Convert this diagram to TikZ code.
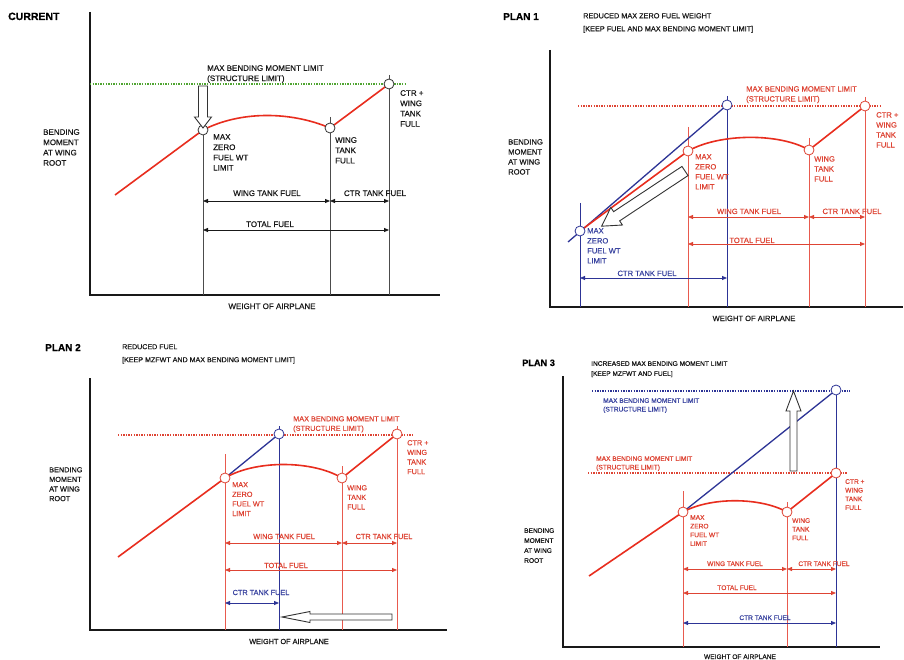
\documentclass[tikz,border=0pt]{standalone}
\usepackage{fontspec}
\setmainfont{Liberation Sans}[FakeBold=0.5]
\usetikzlibrary{arrows.meta,backgrounds}

\definecolor{curvered}{RGB}{232,45,30}
\definecolor{lblred}{RGB}{222,68,52}
\definecolor{dropred}{RGB}{232,90,78}
\definecolor{planblue}{RGB}{45,52,150}
\definecolor{lblblue}{RGB}{58,68,160}
\definecolor{limgreen}{RGB}{80,165,50}

% hollow block arrow: tail, angle, length, shaft half width, head half width, head length
\newcommand{\fatarrow}[6]{%
  \begin{scope}[shift={#1}, rotate=#2]
    \draw[fatline] (0,-#4) -- (#3-#6,-#4) -- (#3-#6,-#5) -- (#3,0) -- (#3-#6,#5) -- (#3-#6,#4) -- (0,#4) -- cycle;
  \end{scope}}

\begin{document}
\begin{tikzpicture}[
    x=1pt, y=-1pt,
    >={Triangle[length=5pt,width=4pt]},
    title/.style={font=\fontsize{10.5}{12}\selectfont\bfseries, inner sep=0pt, anchor=base west, text=black},
    lbl/.style={align=left, anchor=north west, inner sep=0pt, text=black!90},
    dlab/.style={anchor=base, inner sep=0pt, text=black!90},
    pt/.style={circle, draw=#1, fill=white, line width=0.8pt, minimum size=10pt, inner sep=0pt},
    axis/.style={line width=1.1pt, draw=black!90},
    drop/.style={line width=0.7pt, draw=#1},
    drop/.default=black!70,
    curve/.style={line width=1.6pt, draw=curvered, line join=round},
    bline/.style={line width=1.3pt, draw=planblue},
    limit/.style={line width=1.4pt, dash pattern=on 1.4pt off 1.2pt, draw=#1},
    dim/.style={<->, line width=0.8pt, draw=#1},
    fatline/.style={draw=black!80, line width=0.9pt, fill=white, line join=miter}
]
\useasboundingbox (0,0) rectangle (904,660);
\begin{scope}[on background layer]
  \fill[white] (0,0) rectangle (904,660);
\end{scope}

% ---- CURRENT (top left) ----
\begin{scope}[every node/.append style={font=\fontsize{8}{10.3}\selectfont}]
\node[title] (tcur) at (8,20) {CURRENT};
\coordinate (org0) at (90,295);
\coordinate (st0) at (115,195);
\node[pt=black!80] (mz0)   at (203,130) {};
\node[pt=black!80] (wtf0)  at (330,128) {};
\node[pt=black!80] (full0) at (389,84)  {};

\node[lbl] (ylab0) at (43,129) {BENDING\\MOMENT\\AT WING\\ROOT};
\node[lbl] (lim0)  at (207,65) {MAX BENDING MOMENT LIMIT\\(STRUCTURE LIMIT)};
\node[lbl] (lmz0)  at (213,134) {MAX\\ZERO\\FUEL WT\\LIMIT};
\node[lbl] (lwtf0) at (335,137) {WING\\TANK\\FULL};
\node[lbl] (lful0) at (400,90)  {CTR +\\WING\\TANK\\FULL};

\begin{scope}[on background layer]
  \draw[axis] (90,12) -- (org0) -- (440,295);
  \draw[limit=limgreen] (org0 |- 0,84) -- (405,84);
  \draw[drop] (mz0) -- (mz0 |- org0);
  \draw[drop] (wtf0 |- 0,117) -- (wtf0 |- org0);
  \draw[drop] (full0 |- 0,75) -- (full0 |- org0);
  \draw[curve] (st0) -- (mz0.center) .. controls (240,111) and (290,111) .. (wtf0.center) -- (full0.center);
\end{scope}

\draw[dim=black!90] (mz0 |- 0,201) -- (wtf0 |- 0,201);
\draw[dim=black!90] (wtf0 |- 0,201) -- (full0 |- 0,201);
\draw[dim=black!90] (mz0 |- 0,230) -- (full0 |- 0,230);
\node[dlab] (wt0)  at (267,196) {WING TANK FUEL};
\node[dlab] (ct0)  at (375,196) {CTR TANK FUEL};
\node[dlab] (tot0) at (270,227) {TOTAL FUEL};
\node[dlab] (xl0)  at (272,309) {WEIGHT OF AIRPLANE};
\fatarrow{(203,86)}{-90}{42}{4.5}{8.5}{11}
\end{scope}

% ---- PLAN 1 (top right) ----
\begin{scope}[every node/.append style={font=\fontsize{7.6}{10}\selectfont}]
\node[title, font=\fontsize{10}{12}\selectfont\bfseries] (tp1) at (503,20) {PLAN 1};
\node[lbl, font=\fontsize{7.3}{13}\selectfont] (sub1) at (583,13) {REDUCED MAX ZERO FUEL WEIGHT\\{}[KEEP FUEL AND MAX BENDING MOMENT LIMIT]};
\coordinate (org1) at (550,307);
\coordinate (st1) at (584,228);
\coordinate (bst1) at (568,242);
\node[pt=planblue] (bmz1)   at (580,231) {};
\node[pt=planblue] (bfull1) at (727,105) {};
\node[pt=lblred] (mz1)   at (688,151) {};
\node[pt=lblred] (wtf1)  at (809,150) {};
\node[pt=lblred] (full1) at (865,106) {};

\node[lbl] (ylab1) at (508,139) {BENDING\\MOMENT\\AT WING\\ROOT};
\node[lbl, text=lblred] (lim1)  at (746,86)  {MAX BENDING MOMENT LIMIT\\(STRUCTURE LIMIT)};
\node[lbl, text=lblred] (lmz1)  at (695,154) {MAX\\ZERO\\FUEL WT\\LIMIT};
\node[lbl, text=lblred] (lwtf1) at (814,156) {WING\\TANK\\FULL};
\node[lbl, text=lblred] (lful1) at (876,112) {CTR +\\WING\\TANK\\FULL};
\node[lbl, text=lblblue] (lbmz1) at (587,228) {MAX\\ZERO\\FUEL WT\\LIMIT};

\begin{scope}[on background layer]
  \draw[axis] (550,50) -- (org1) -- (903,307);
  \draw[limit=lblred] (578,106) -- (880,106);
  \draw[drop=dropred] (mz1 |- 0,127) -- (mz1 |- org1);
  \draw[drop=dropred] (wtf1 |- 0,138) -- (wtf1 |- org1);
  \draw[drop=dropred] (full1 |- 0,97) -- (full1 |- org1);
  \draw[drop=planblue] (bmz1 |- 0,203) -- (bmz1 |- org1);
  \draw[drop=planblue] (bfull1 |- 0,96) -- (bfull1 |- org1);
  \draw[bline] (bst1) -- (bfull1.center);
  \draw[curve] (st1) -- (mz1.center) .. controls (720,133) and (780,133) .. (wtf1.center) -- (full1.center);
\end{scope}

\draw[dim=lblred] (mz1 |- 0,217) -- (wtf1 |- 0,217);
\draw[dim=lblred] (wtf1 |- 0,217) -- (full1 |- 0,217);
\draw[dim=lblred] (mz1 |- 0,244) -- (full1 |- 0,244);
\draw[dim=planblue] (bmz1 |- 0,278) -- (bfull1 |- 0,278);
\node[dlab, text=lblred] (wt1)  at (749,214) {WING TANK FUEL};
\node[dlab, text=lblred] (ct1)  at (852,214) {CTR TANK FUEL};
\node[dlab, text=lblred] (tot1) at (752,243) {TOTAL FUEL};
\node[dlab, text=lblblue] (bct1) at (647,276) {CTR TANK FUEL};
\node[dlab] (xl1) at (754,321) {WEIGHT OF AIRPLANE};
\fatarrow{(685,171)}{213.5}{100}{5.5}{10.5}{18}
\end{scope}

% ---- PLAN 2 (bottom left) ----
\begin{scope}[every node/.append style={font=\fontsize{7.3}{9.6}\selectfont}]
\node[title, font=\fontsize{10}{12}\selectfont\bfseries] (tp2) at (45,351) {PLAN 2};
\node[lbl, font=\fontsize{7.1}{13}\selectfont] (sub2) at (122,344) {REDUCED FUEL\\{}[KEEP MZFWT AND MAX BENDING MOMENT LIMIT]};
\coordinate (org2) at (90,630);
\coordinate (st2) at (118,557);
\node[pt=lblred] (mz2)   at (225,478) {};
\node[pt=planblue] (bfull2) at (279,434) {};
\node[pt=lblred] (wtf2)  at (342,478) {};
\node[pt=lblred] (full2) at (397,434) {};

\node[lbl] (ylab2) at (49,467) {BENDING\\MOMENT\\AT WING\\ROOT};
\node[lbl, text=lblred] (lim2)  at (293,416) {MAX BENDING MOMENT LIMIT\\(STRUCTURE LIMIT)};
\node[lbl, text=lblred] (lmz2)  at (232,482) {MAX\\ZERO\\FUEL WT\\LIMIT};
\node[lbl, text=lblred] (lwtf2) at (347,485) {WING\\TANK\\FULL};
\node[lbl, text=lblred] (lful2) at (407,440) {CTR +\\WING\\TANK\\FULL};

\begin{scope}[on background layer]
  \draw[axis] (90,378) -- (org2) -- (447,630);
  \draw[limit=lblred] (118,435) -- (412,435);
  \draw[drop=dropred] (mz2 |- 0,454) -- (mz2 |- org2);
  \draw[drop=dropred] (wtf2 |- 0,466) -- (wtf2 |- org2);
  \draw[drop=dropred] (full2 |- 0,426) -- (full2 |- org2);
  \draw[drop=planblue] (bfull2 |- 0,426) -- (bfull2 |- org2);
  \draw[bline] (mz2.center) -- (bfull2.center);
  \draw[curve] (st2) -- (mz2.center) .. controls (255,460) and (312,460) .. (wtf2.center) -- (full2.center);
\end{scope}

\draw[dim=lblred] (mz2 |- 0,543) -- (wtf2 |- 0,543);
\draw[dim=lblred] (wtf2 |- 0,543) -- (full2 |- 0,543);
\draw[dim=lblred] (mz2 |- 0,570) -- (full2 |- 0,570);
\draw[dim=planblue] (mz2 |- 0,603) -- (bfull2 |- 0,603);
\node[dlab, text=lblred] (wt2)  at (284,539) {WING TANK FUEL};
\node[dlab, text=lblred] (ct2)  at (384,539) {CTR TANK FUEL};
\node[dlab, text=lblred] (tot2) at (286,568) {TOTAL FUEL};
\node[dlab, text=lblblue] (bct2) at (261,595) {CTR TANK FUEL};
\node[dlab] (xl2) at (289,644) {WEIGHT OF AIRPLANE};
\fatarrow{(392,617)}{180}{110}{3}{5.5}{28}
\end{scope}

% ---- PLAN 3 (bottom right) ----
\begin{scope}[every node/.append style={font=\fontsize{6.6}{8.7}\selectfont}]
\node[title, font=\fontsize{9.2}{11}\selectfont\bfseries] (tp3) at (522,366) {PLAN 3};
\node[lbl, font=\fontsize{6.6}{10}\selectfont] (sub3) at (591,361) {INCREASED MAX BENDING MOMENT LIMIT\\{}[KEEP MZFWT AND FUEL]};
\coordinate (org3) at (563,647);
\coordinate (st3) at (589,576);
\node[pt=lblred] (mz3)   at (683,512) {};
\node[pt=lblred] (wtf3)  at (787,512) {};
\node[pt=lblred] (full3) at (836,473) {};
\node[pt=planblue] (bfull3) at (836,390) {};

\node[lbl, font=\fontsize{6.6}{10}\selectfont] (ylab3) at (524,528) {BENDING\\MOMENT\\AT WING\\ROOT};
\node[lbl, text=lblblue] (blim3) at (603,398) {MAX BENDING MOMENT LIMIT\\(STRUCTURE LIMIT)};
\node[lbl, text=lblred] (lim3)  at (596,456) {MAX BENDING MOMENT LIMIT\\(STRUCTURE LIMIT)};
\node[lbl, text=lblred] (lmz3)  at (690,515) {MAX\\ZERO\\FUEL WT\\LIMIT};
\node[lbl, text=lblred] (lwtf3) at (792,518) {WING\\TANK\\FULL};
\node[lbl, text=lblred] (lful3) at (845,479) {CTR +\\WING\\TANK\\FULL};

\begin{scope}[on background layer]
  \draw[axis] (563,376) -- (org3) -- (880,647);
  \draw[limit=planblue] (592,391) -- (850,391);
  \draw[limit=lblred] (588,473) -- (847,473);
  \draw[drop=dropred] (mz3 |- 0,491) -- (mz3 |- org3);
  \draw[drop=dropred] (wtf3 |- 0,502) -- (wtf3 |- org3);
  \draw[drop=planblue] (bfull3) -- (bfull3 |- org3);
  \draw[bline] (mz3.center) -- (bfull3.center);
  \draw[curve] (st3) -- (mz3.center) .. controls (710,497) and (760,497) .. (wtf3.center) -- (full3.center);
\end{scope}

\draw[dim=lblred] (mz3 |- 0,569) -- (wtf3 |- 0,569);
\draw[dim=lblred] (wtf3 |- 0,569) -- (full3 |- 0,569);
\draw[dim=lblred] (mz3 |- 0,593) -- (full3 |- 0,593);
\draw[dim=planblue] (mz3 |- 0,623) -- (bfull3 |- 0,623);
\node[dlab, text=lblred] (wt3)  at (735,566) {WING TANK FUEL};
\node[dlab, text=lblred] (ct3)  at (824,566) {CTR TANK FUEL};
\node[dlab, text=lblred] (tot3) at (737,590) {TOTAL FUEL};
\node[dlab, text=lblblue] (bct3) at (765,620) {CTR TANK FUEL};
\node[dlab] (xl3) at (740,659) {WEIGHT OF AIRPLANE};
\fatarrow{(793.5,471)}{90}{80}{3.5}{7.5}{20}
\end{scope}

\end{tikzpicture}
\end{document}
